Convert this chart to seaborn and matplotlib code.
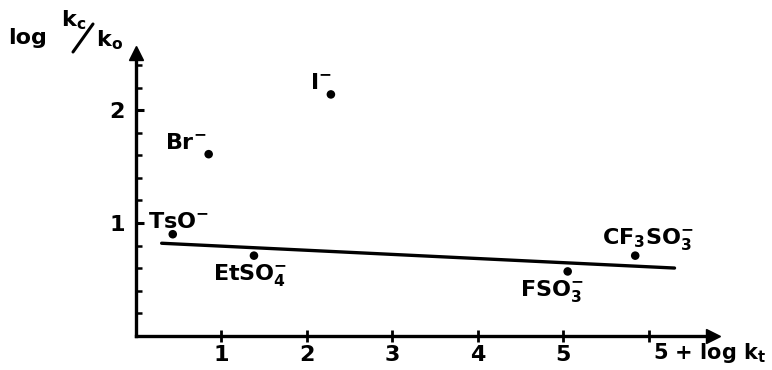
import matplotlib
matplotlib.use("Agg")
import matplotlib.pyplot as plt
import seaborn as sns
import pandas as pd
from matplotlib.ticker import MultipleLocator
from matplotlib.lines import Line2D

sns.set_style("white")
plt.rcParams['font.family'] = ['DejaVu Sans']
plt.rcParams['font.weight'] = 'bold'
plt.rcParams['text.color'] = 'black'
plt.rcParams['xtick.color'] = 'black'
plt.rcParams['ytick.color'] = 'black'
plt.rcParams['mathtext.fontset'] = 'custom'
plt.rcParams['mathtext.rm'] = 'DejaVu Sans:bold'
plt.rcParams['mathtext.it'] = 'DejaVu Sans:bold'
plt.rcParams['mathtext.bf'] = 'DejaVu Sans:bold'

# Anions: x = 5 + log k_t, y = log kc/ko
anions = ['I$^{-}$', 'Br$^{-}$', 'TsO$^{-}$', 'EtSO$_4^{-}$', 'FSO$_3^{-}$', 'CF$_3$SO$_3^{-}$']
x_vals = [2.28, 0.85, 0.43, 1.38, 5.05, 5.84]
y_vals = [2.14, 1.61, 0.90, 0.71, 0.57, 0.71]
# label offsets in data units (relative to point)
lab_dx = [-0.24, -0.51, -0.29, -0.48, -0.56, -0.39]
lab_dy = [0.10, 0.10, 0.11, -0.17, -0.17, 0.15]

# Fitted line end points
fit_x = [0.30, 6.30]
fit_y = [0.82, 0.60]

df = pd.DataFrame({'x': x_vals, 'y': y_vals, 'anion': anions})
fit = pd.DataFrame({'x': fit_x, 'y': fit_y})

fig = plt.figure(figsize=(7.72, 3.70), dpi=100)
ax = fig.add_axes([136 / 772, 34.3 / 370, 577 / 772, 283 / 370])

sns.lineplot(data=fit, x='x', y='y', color='black', linewidth=2.4, ax=ax)
sns.scatterplot(data=df, x='x', y='y', color='black', s=38, edgecolor='none', ax=ax)

for xi, yi, name, dx, dy in zip(x_vals, y_vals, anions, lab_dx, lab_dy):
    ax.text(xi + dx, yi + dy, name, fontsize=16, fontweight='bold', va='center', ha='left')

ax.set_xlim(0, 6.75)
ax.set_ylim(0, 2.51)

# Axes: only left and bottom, with arrow heads
for s in ['top', 'right']:
    ax.spines[s].set_visible(False)
for s in ['left', 'bottom']:
    ax.spines[s].set_linewidth(2.4)
    ax.spines[s].set_color('black')
ax.plot(1, 0, '>', color='black', markersize=10, transform=ax.get_yaxis_transform(), clip_on=False)
ax.plot(0, 1, '^', color='black', markersize=10, transform=ax.get_xaxis_transform(), clip_on=False)

ax.set_xticks([1, 2, 3, 4, 5, 6])
ax.set_xticklabels(['1', '2', '3', '4', '5', ''])
ax.set_yticks([1, 2])
ax.yaxis.set_minor_locator(MultipleLocator(0.2))
ax.tick_params(axis='x', direction='inout', length=9, width=2, labelsize=16, pad=2, bottom=True)
ax.tick_params(axis='y', which='major', direction='in', length=6, width=2.2, labelsize=16, pad=8, left=True)
ax.tick_params(axis='y', which='minor', direction='in', length=4, width=1.8, left=True)

ax.set_xlabel('')
ax.set_ylabel('')

# axis titles
fig.text(653 / 772, 1 - 353 / 370, '5 + log k$_t$', fontsize=15, fontweight='bold', va='center', ha='left')
fig.text(8 / 772, 1 - 38 / 370, 'log', fontsize=16, fontweight='bold', va='center', ha='left')
fig.text(61 / 772, 1 - 20 / 370, 'k$_c$', fontsize=16, fontweight='bold', va='center', ha='left')
fig.text(96 / 772, 1 - 40 / 370, 'k$_o$', fontsize=16, fontweight='bold', va='center', ha='left')
fig.add_artist(Line2D([73 / 772, 93 / 772], [1 - 52 / 370, 1 - 24 / 370],
                      transform=fig.transFigure, color='black', linewidth=2.2))

plt.savefig('out.png', dpi=100)
